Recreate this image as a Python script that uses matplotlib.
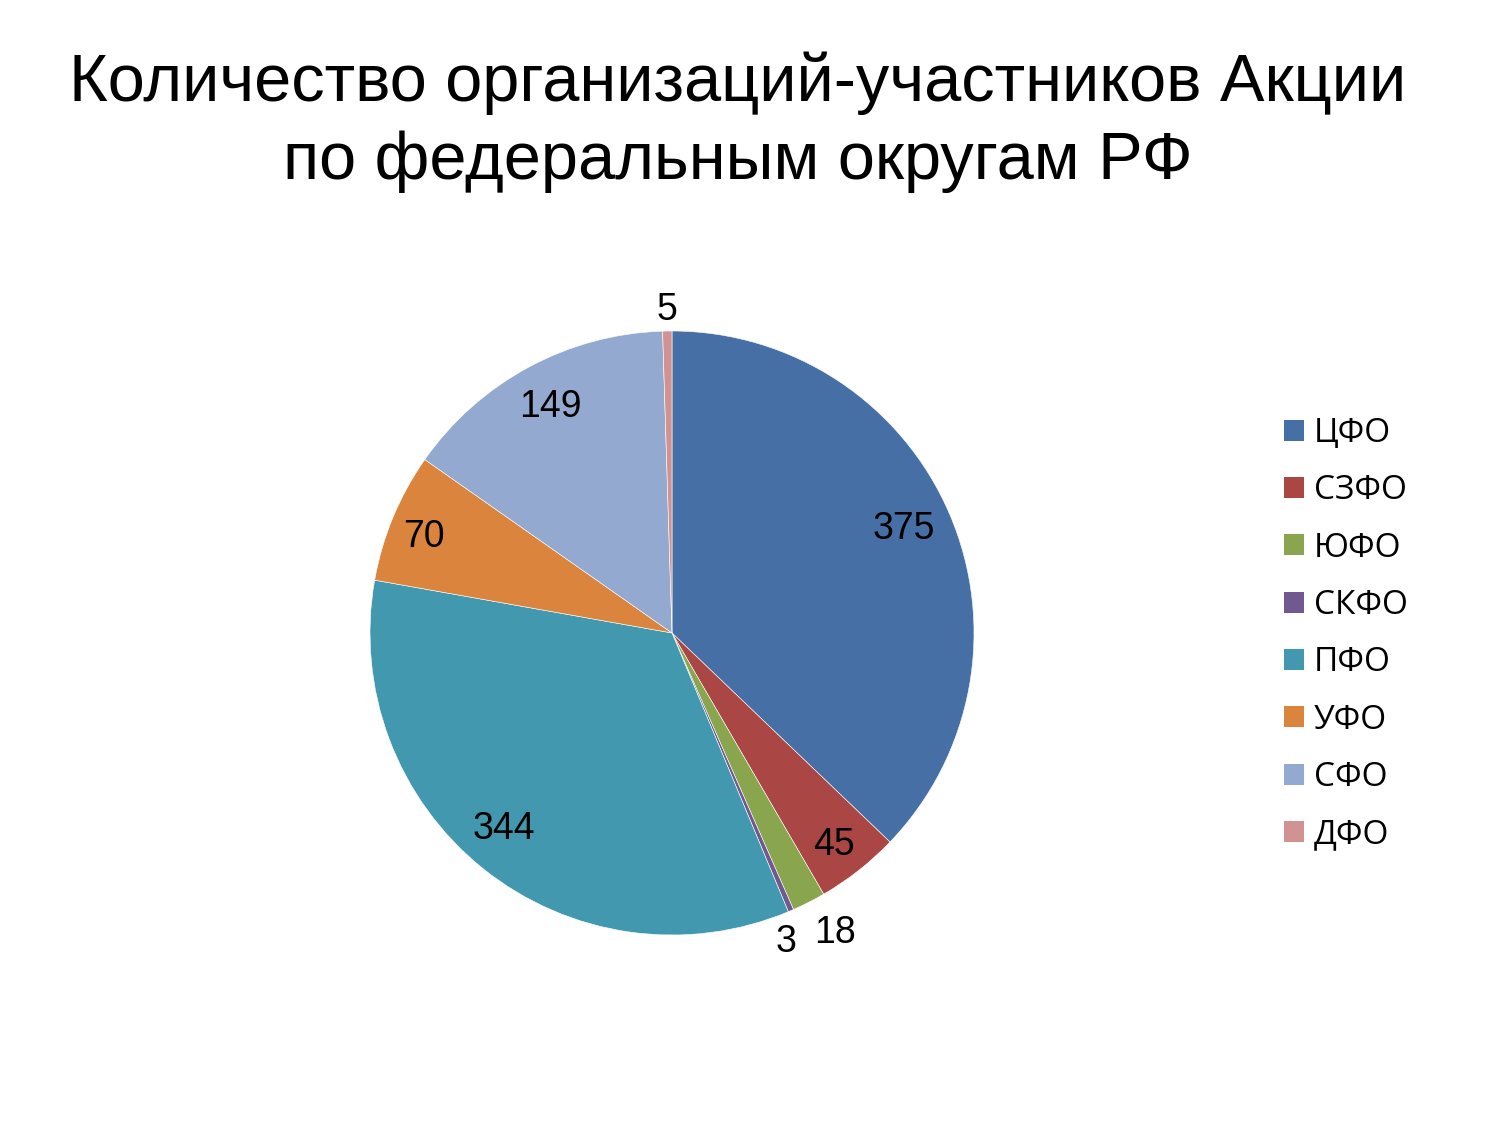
import numpy as np
import matplotlib
matplotlib.use("Agg")
import matplotlib.pyplot as plt
from matplotlib.patches import Patch

categories = ["ЦФО", "СЗФО", "ЮФО", "СКФО", "ПФО", "УФО", "СФО", "ДФО"]
values = [375, 45, 18, 3, 344, 70, 149, 5]
colors = ["#4670A5", "#AA4643", "#89A54E", "#71588F", "#4198AF", "#DB843D", "#93A9CF", "#D19392"]
label_r = [0.84, 0.885, 1.13, 1.09, 0.855, 0.88, 0.85, 1.07]
label_shift = [1.0, -0.8, 1.5, -3.0, -2.0, 1.3, 0, 0]  # angle nudges, degrees

title = "Количество организаций-участников Акции\nпо федеральным округам РФ"

fig = plt.figure(figsize=(15, 11.25), dpi=100)
fig.patch.set_facecolor("white")

cx, cy, R = 672, 633, 302
ax = fig.add_axes([(cx - R) / 1500, (1125 - cy - R) / 1125, 2 * R / 1500, 2 * R / 1125])
wedges, _ = ax.pie(values, colors=colors, startangle=90, counterclock=False, radius=1.0,
                   wedgeprops=dict(edgecolor="white", linewidth=0.4))
ax.set_xlim(-1, 1)
ax.set_ylim(-1, 1)
ax.set_aspect("equal")
ax.axis("off")

total = float(sum(values))
start = 90.0
for v, r, sh in zip(values, label_r, label_shift):
    span = v / total * 360.0
    mid = np.deg2rad(start - span / 2 + sh)
    ax.text(r * np.cos(mid), r * np.sin(mid), str(v), ha="center", va="center",
            fontsize=27, family="Liberation Sans", color="black")
    start -= span

fig.text(738 / 1500, 1 - 122 / 1125, title, ha="center", va="center", fontsize=48,
         family="Liberation Sans", linespacing=1.32, color="black")

handles = [Patch(facecolor=c, edgecolor="none") for c in colors]
fig.legend(handles, categories, loc="center left",
           bbox_to_anchor=(1284 / 1500, 1 - 634 / 1125), bbox_transform=fig.transFigure,
           frameon=False, prop=dict(family="Open Sans", size=24),
           handlelength=0.6, handleheight=0.6, handletextpad=0.3,
           labelspacing=0.73, borderpad=0, borderaxespad=0)

fig.savefig("out.png", dpi=100, facecolor="white")
